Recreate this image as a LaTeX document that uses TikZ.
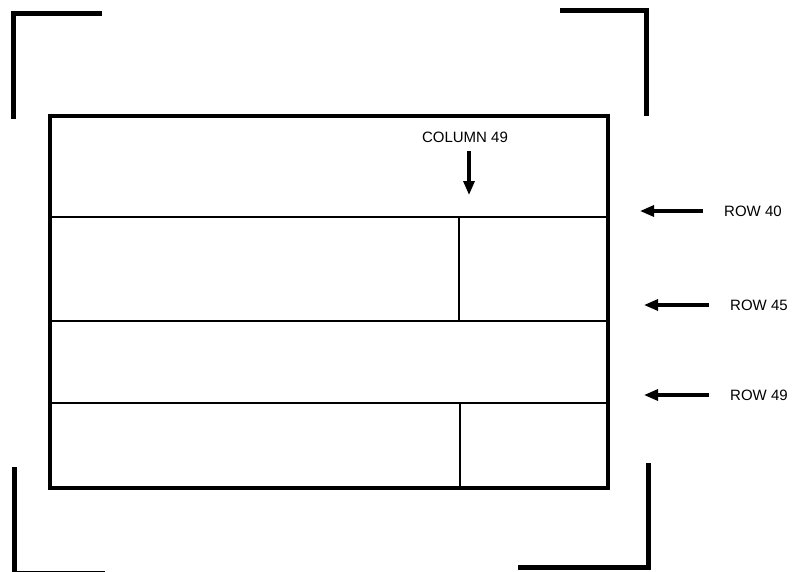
\documentclass[tikz,border=0pt]{standalone}
\usepackage{fontspec}
\setmainfont{Liberation Sans}
\usetikzlibrary{arrows.meta}
\tikzset{
  bracket/.style={line width=5pt, line join=miter, line cap=butt},
  frame/.style={line width=3.5pt},
  divider/.style={line width=2pt},
  label/.style={font=\fontsize{15}{18}\selectfont, inner sep=0pt},
  pointer/.style={line width=3.2pt, -{Triangle[length=14pt,width=11pt]}}
}
\begin{document}
\begin{tikzpicture}[x=1pt,y=-1pt]
\useasboundingbox (0,0) rectangle (792,571);
% corner brackets
\draw[bracket] (102,13) -- (13,13) -- (13,119);
\draw[bracket] (560,10) -- (646,10) -- (646,116);
\draw[bracket] (14,467) -- (14,573.5) -- (105,573.5);
\draw[bracket] (648,463) -- (648,567) -- (518,567);
% main frame
\draw[frame] (50,116) rectangle (608,488);
\draw[divider] (50,217) -- (608,217);
\draw[divider] (50,321) -- (608,321);
\draw[divider] (50,403) -- (608,403);
\draw[divider] (459,217) -- (459,321);
\draw[divider] (460,403) -- (460,488);
% labels
\node[label] (col) at (465,137) {COLUMN 49};
\node[label, anchor=west] (r40) at (724,211) {ROW 40};
\node[label, anchor=west] (r45) at (730,305) {ROW 45};
\node[label, anchor=west] (r49) at (730,395) {ROW 49};
% arrow coordinates
\coordinate (c1) at (469,151); \coordinate (c2) at (469,195);
\coordinate (a1) at (703,211); \coordinate (a2) at (640,211);
\coordinate (b1) at (709,305); \coordinate (b2) at (644,305);
\coordinate (d1) at (709,395); \coordinate (d2) at (644,395);
\draw[pointer] (c1) -- (c2);
\draw[pointer] (a1) -- (a2);
\draw[pointer] (b1) -- (b2);
\draw[pointer] (d1) -- (d2);
\end{tikzpicture}
\end{document}
